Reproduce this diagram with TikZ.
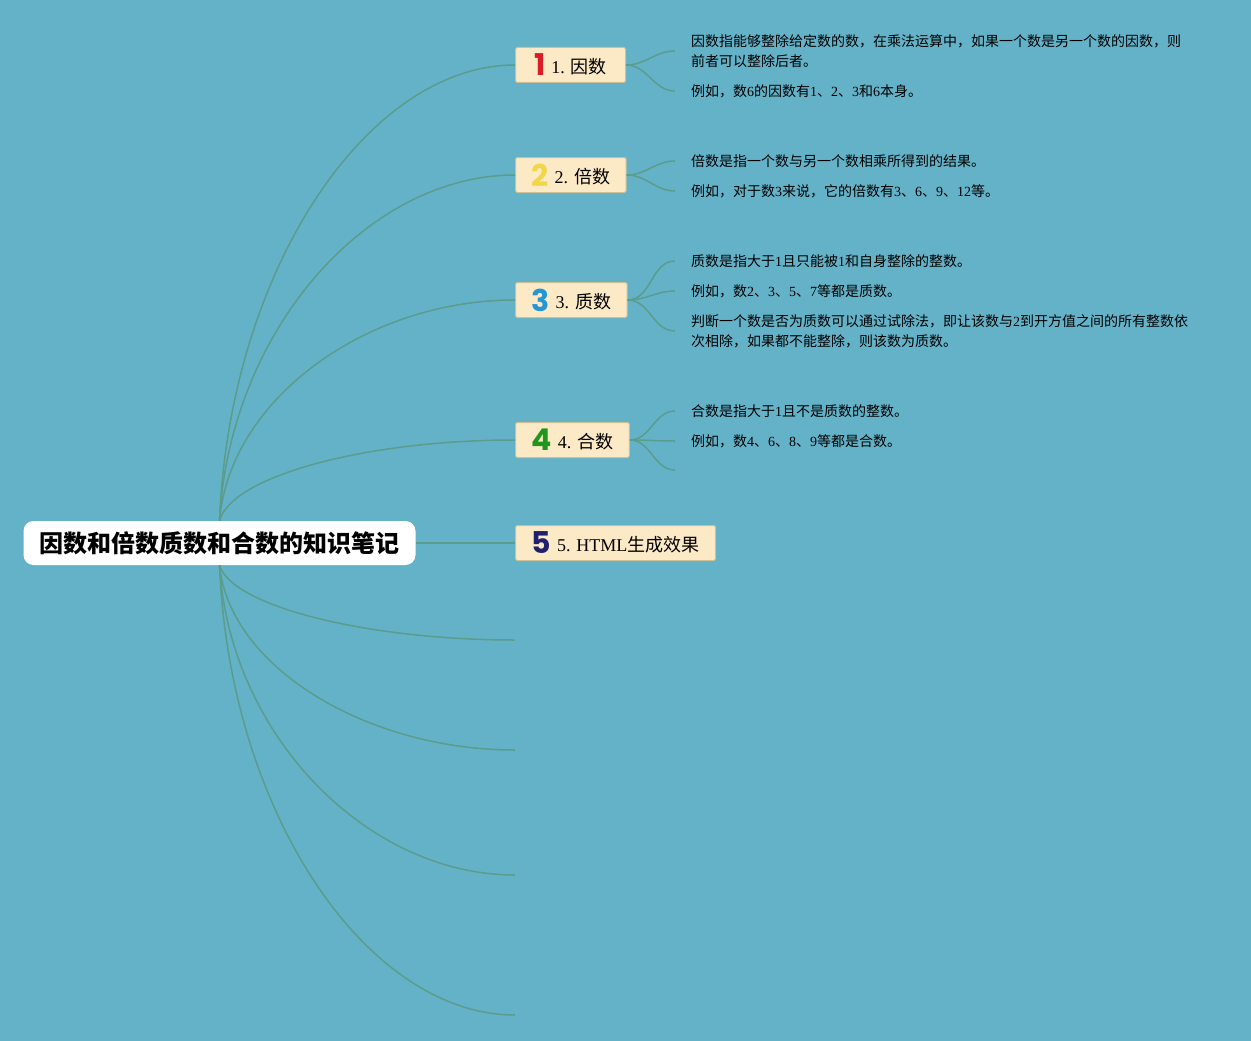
\documentclass[tikz,border=0pt]{standalone}
\usepackage{fontspec}
\setmainfont{Liberation Serif}
\newfontfamily\cjk{Noto Sans CJK SC}
\newfontfamily\numfont{Poppins}
\newcommand\zh[1]{{\cjk #1}}
\newcommand\badge[3]{{\numfont\bfseries\fontsize{30}{30}\selectfont\color{#1}#2}\hspace{6pt}\raisebox{2.5pt}{#3}}
\definecolor{bgblue}{RGB}{99,178,200}
\definecolor{linkgreen}{RGB}{92,156,140}
\definecolor{boxfill}{RGB}{252,233,197}
\definecolor{boxline}{RGB}{205,192,150}
\definecolor{numred}{RGB}{218,30,40}
\definecolor{numyellow}{RGB}{240,214,72}
\definecolor{numblue}{RGB}{36,150,214}
\definecolor{numgreen}{RGB}{32,150,30}
\definecolor{numnavy}{RGB}{32,32,110}
\begin{document}
\begin{tikzpicture}[
    x=1pt, y=-1pt,
    rootbox/.style={rectangle, fill=white, rounded corners=10pt, minimum width=389pt, minimum height=44pt, inner xsep=16pt, font=\fontsize{24}{30}\selectfont\cjk\bfseries},
    topic/.style={rectangle, fill=boxfill, draw=boxline, line width=1pt, rounded corners=1.5pt, minimum width=110pt, minimum height=35pt, inner xsep=16pt, inner ysep=0pt, anchor=west, font=\fontsize{18}{22}\selectfont},
    leaf/.style={anchor=west, align=left, inner xsep=16pt, inner ysep=0pt, font=\fontsize{14}{20}\selectfont},
    link/.style={linkgreen, line width=1.5pt}
]
\useasboundingbox (0,0) rectangle (1251,1041);
\fill[bgblue] (0,0) rectangle (1251,1041);

% centre and topics
\node[rootbox] (root) at (219.5,543) {因数和倍数质数和合数的知识笔记};
\node[topic] (t1) at (515,65) {\badge{numred}{1}{1. \zh{因数}}};
\node[topic] (t2) at (515,175) {\badge{numyellow}{2}{2. \zh{倍数}}};
\node[topic] (t3) at (515,300) {\badge{numblue}{3}{3. \zh{质数}}};
\node[topic] (t4) at (515,440) {\badge{numgreen}{4}{4. \zh{合数}}};
\node[topic] (t5) at (515,543) {\badge{numnavy}{5}{5. HTML\zh{生成效果}}};

% empty branches
\coordinate (e1) at (515,640);
\coordinate (e2) at (515,750);
\coordinate (e3) at (515,875);
\coordinate (e4) at (515,1015);

% leaves
\node[leaf] (l1a) at (675,51) {\zh{因数指能够整除给定数的数，在乘法运算中，如果一个数是另一个数的因数，则}\\\zh{前者可以整除后者。}};
\node[leaf] (l1b) at (675,91) {\zh{例如，数}6\zh{的因数有}1\zh{、}2\zh{、}3\zh{和}6\zh{本身。}};
\node[leaf] (l2a) at (675,161) {\zh{倍数是指一个数与另一个数相乘所得到的结果。}};
\node[leaf] (l2b) at (675,191) {\zh{例如，对于数}3\zh{来说，它的倍数有}3\zh{、}6\zh{、}9\zh{、}12\zh{等。}};
\node[leaf] (l3a) at (675,261) {\zh{质数是指大于}1\zh{且只能被}1\zh{和自身整除的整数。}};
\node[leaf] (l3b) at (675,291) {\zh{例如，数}2\zh{、}3\zh{、}5\zh{、}7\zh{等都是质数。}};
\node[leaf] (l3c) at (675,331) {\zh{判断一个数是否为质数可以通过试除法，即让该数与}2\zh{到开方值之间的所有整数依}\\\zh{次相除，如果都不能整除，则该数为质数。}};
\node[leaf] (l4a) at (675,411) {\zh{合数是指大于}1\zh{且不是质数的整数。}};
\node[leaf] (l4b) at (675,441) {\zh{例如，数}4\zh{、}6\zh{、}8\zh{、}9\zh{等都是合数。}};
\coordinate (l4c) at (675,470);

% root links
\draw[link] (root.north) .. controls +(10,-250) and +(-148,0) .. (t1.west);
\draw[link] (root.north) .. controls +(10,-190) and +(-148,0) .. (t2.west);
\draw[link] (root.north) .. controls +(10,-122) and +(-148,0) .. (t3.west);
\draw[link] (root.north) .. controls +(12,-45) and +(-148,0) .. (t4.west);
\draw[link] (root.east) -- (t5.west);
\draw[link] (root.south) .. controls +(12,41) and +(-148,0) .. (e1);
\draw[link] (root.south) .. controls +(10,102) and +(-148,0) .. (e2);
\draw[link] (root.south) .. controls +(10,170) and +(-148,0) .. (e3);
\draw[link] (root.south) .. controls +(10,248) and +(-148,0) .. (e4);

% leaf links
\draw[link] (t1.east) to[out=0, in=180] (l1a.west);
\draw[link] (t1.east) to[out=0, in=180] (l1b.west);
\draw[link] (t2.east) to[out=0, in=180] (l2a.west);
\draw[link] (t2.east) to[out=0, in=180] (l2b.west);
\draw[link] (t3.east) to[out=0, in=180] (l3a.west);
\draw[link] (t3.east) to[out=0, in=180] (l3b.west);
\draw[link] (t3.east) to[out=0, in=180] (l3c.west);
\draw[link] (t4.east) to[out=0, in=180] (l4a.west);
\draw[link] (t4.east) to[out=0, in=180] (l4b.west);
\draw[link] (t4.east) to[out=0, in=180] (l4c);
\end{tikzpicture}
\end{document}
